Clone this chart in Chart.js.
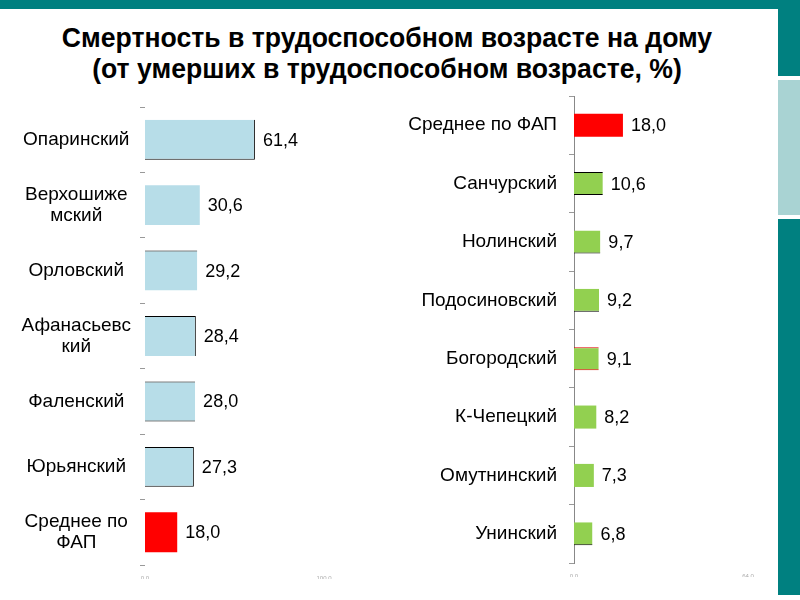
<!DOCTYPE html>
<html>
<head>
<meta charset="utf-8">
<script src="https://cdn.jsdelivr.net/npm/chart.js@4.4.1/dist/chart.umd.min.js"></script>
<style>
  body { margin: 0; width: 800px; height: 600px; background: #fff; position: relative; overflow: hidden; font-family: "Liberation Sans", Arial, sans-serif; }
  .topbar { position: absolute; left: 0; top: 0; width: 800px; height: 9px; background: #008080; }
  .strip { position: absolute; left: 778px; width: 22px; }
  .title { position: absolute; left: 0; top: 22px; width: 774px; text-align: center; font-family: "Liberation Sans", Arial, sans-serif; font-weight: bold; font-size: 28px; line-height: 31px; color: #000; transform: scaleX(0.95); transform-origin: 387px 0; }
  canvas { position: absolute; }
</style>
</head>
<body>
<div class="topbar"></div>
<div class="strip" style="top:0;height:76px;background:#008080"></div>
<div class="strip" style="top:80px;height:135px;background:#a9d3d3"></div>
<div class="strip" style="top:219px;height:376px;background:#008080"></div>
<div class="title">Смертность в трудоспособном возрасте на дому<br>(от умерших в трудоспособном возрасте, %)</div>
<canvas id="left" width="380" height="482" style="left:0;top:97px"></canvas>
<canvas id="right" width="388" height="490" style="left:390px;top:87px"></canvas>
<script>
// left chart
const leftCategories = ['Опаринский', ['Верхошиже', 'мский'], 'Орловский', ['Афанасьевс', 'кий'], 'Фаленский', 'Юрьянский', ['Среднее по', 'ФАП']];
const leftValues = [61.4, 30.6, 29.2, 28.4, 28.0, 27.3, 18.0];
const leftTicks = [0, 100];

// right chart
const rightCategories = ['Среднее по ФАП', 'Санчурский', 'Нолинский', 'Подосиновский', 'Богородский', 'К-Чепецкий', 'Омутнинский', 'Унинский'];
const rightValues = [18.0, 10.6, 9.7, 9.2, 9.1, 8.2, 7.3, 6.8];
const rightTicks = [0, 64];

const BLUE = '#b7dde8', GREEN = '#92d050', RED = '#ff0000';
const FONT = '"Liberation Sans", Arial, sans-serif';

function fmt(v) { return v.toFixed(1).replace('.', ','); }

const valueLabels = {
  id: 'valueLabels',
  afterDatasetsDraw(chart) {
    const ctx = chart.ctx;
    const data = chart.data.datasets[0].data;
    ctx.save();
    ctx.font = '18px ' + FONT;
    ctx.fillStyle = '#000';
    ctx.textBaseline = 'middle';
    chart.getDatasetMeta(0).data.forEach((bar, i) => {
      ctx.fillText(fmt(data[i]), bar.x + 8, bar.y + 1);
    });
    ctx.restore();
  }
};

function makeChart(id, cats, vals, colors, borders, borderColors, ticks, o) {
  return new Chart(document.getElementById(id), {
    type: 'bar',
    data: {
      labels: cats,
      datasets: [{
        data: vals,
        backgroundColor: colors,
        borderColor: borderColors,
        borderWidth: borders,
        borderSkipped: false,
        categoryPercentage: 1,
        barPercentage: o.barPct
      }]
    },
    options: {
      indexAxis: 'y',
      responsive: false,
      animation: false,
      devicePixelRatio: 1,
      layout: { padding: { top: o.padTop, right: o.padRight, left: 0, bottom: 0 } },
      plugins: { legend: { display: false }, tooltip: { enabled: false } },
      scales: {
        x: {
          min: 0, max: ticks[ticks.length - 1],
          grid: { display: false },
          border: { display: false },
          afterBuildTicks: a => { a.ticks = ticks.map(v => ({ value: v })); },
          afterFit: a => { a.height = 14; a.paddingLeft = 0; a.paddingRight = 0; },
          ticks: { font: { size: 6, family: FONT }, color: '#aaa', padding: 2, maxRotation: 0, callback: v => fmt(v) }
        },
        y: {
          grid: { display: true, drawOnChartArea: false, tickLength: 5, color: '#999', offset: true },
          border: { display: o.axisLine, color: '#888' },
          afterFit: a => { a.width = o.axisWidth; a.paddingTop = 0; a.paddingBottom = 0; },
          ticks: { font: { size: 19, family: FONT, lineHeight: 1.1 }, color: '#000', padding: o.tickPad, crossAlign: o.align, autoSkip: false }
        }
      }
    },
    plugins: [valueLabels]
  });
}

const none = { top: 0, right: 0, bottom: 0, left: 0 };
makeChart('left', leftCategories, leftValues,
  [BLUE, BLUE, BLUE, BLUE, BLUE, BLUE, RED],
  [{ top: 0, right: 1, bottom: 1, left: 0 }, none, { top: 1, right: 0, bottom: 0, left: 0 },
   { top: 1, right: 1, bottom: 0, left: 0 }, { top: 1, right: 0, bottom: 1, left: 0 },
   { top: 1, right: 1, bottom: 1, left: 0 }, none],
  '#000', leftTicks,
  { barPct: 0.61, padTop: 10, padRight: 56, axisWidth: 145, axisLine: false, tickPad: 9, align: 'center' });

makeChart('right', rightCategories, rightValues,
  [RED, GREEN, GREEN, GREEN, GREEN, GREEN, GREEN, GREEN],
  [none, { top: 1, right: 0, bottom: 1, left: 0 }, { top: 0, right: 0, bottom: 1, left: 0 },
   { top: 0, right: 0, bottom: 1, left: 0 }, { top: 1, right: 0, bottom: 1, left: 0 },
   none, none, { top: 0, right: 0, bottom: 1, left: 0 }],
  ['#000', '#000', '#000', '#000', '#e00000', '#000', '#000', '#000'], rightTicks,
  { barPct: 0.395, padTop: 9, padRight: 30, axisWidth: 184, axisLine: true, tickPad: 12, align: 'near' });
</script>
</body>
</html>
